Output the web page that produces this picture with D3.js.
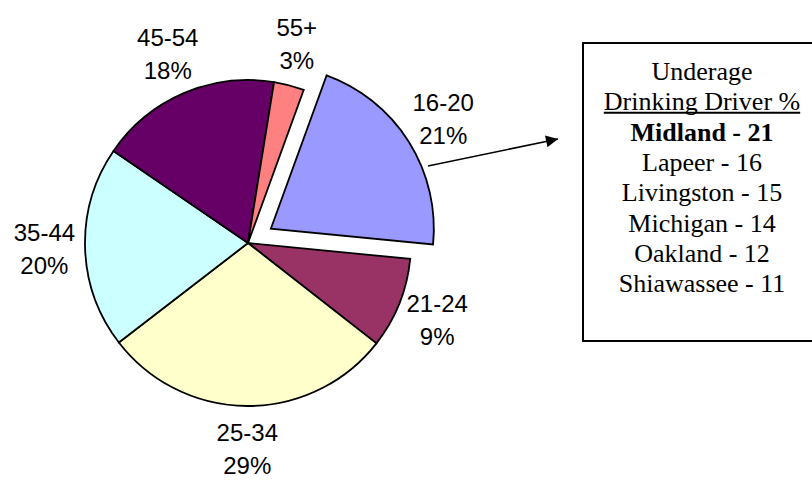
<!DOCTYPE html>
<html>
<head>
<meta charset="utf-8">
<script src="https://cdnjs.cloudflare.com/ajax/libs/d3/7.8.5/d3.min.js"></script>
<style>
  body { margin: 0; background: #fff; }
  svg { display: block; }
</style>
</head>
<body>
<div class="pieDiv"></div>
<script>
"use strict";

// age groups and share of drivers (%)
var ageGroups = ["16-20", "21-24", "25-34", "35-44", "45-54", "55+"];
var sharePct = [21, 9, 29, 20, 18, 3];
var sliceColors = ["#9999FF", "#993366", "#FFFFCC", "#CCFFFF", "#660066", "#FF8080"];
var explodedGroup = "16-20";

// text box on the right
var boxTitle = ["Underage", "Drinking Driver %"];
var counties = ["Midland", "Lapeer", "Livingston", "Michigan", "Oakland", "Shiawassee"];
var countyPct = [21, 16, 15, 14, 12, 11];

var width = 812, height = 481;
var cx = 248, cy = 243, radius = 163;
var explode = 27, labelGap = 10, labelHalfH = 33;

var svg = d3.select(".pieDiv").append("svg")
    .attr("width", width)
    .attr("height", height);

var defs = svg.append("defs");
defs.append("marker")
    .attr("id", "arrowHead")
    .attr("viewBox", "0 0 10 10")
    .attr("refX", 10)
    .attr("refY", 5)
    .attr("markerUnits", "userSpaceOnUse")
    .attr("markerWidth", 16)
    .attr("markerHeight", 12)
    .attr("orient", "auto")
  .append("path")
    .attr("d", "M0,0 L10,5 L0,10 Z")
    .attr("fill", "#000");

var data = ageGroups.map(function(g, i) {
  return { name: g, value: sharePct[i], color: sliceColors[i] };
});

var start = 20 * Math.PI / 180;
var pie = d3.pie()
    .sort(null)
    .value(function(d) { return d.value; })
    .startAngle(start)
    .endAngle(start + 2 * Math.PI);

var arc = d3.arc().innerRadius(0).outerRadius(radius);
var arcs = pie(data);

function midAngle(d) { return (d.startAngle + d.endAngle) / 2; }

function offset(d) {
  if (d.data.name !== explodedGroup) return [0, 0];
  var a = midAngle(d);
  return [explode * Math.sin(a), -explode * Math.cos(a)];
}

var g = svg.append("g")
    .attr("transform", "translate(" + cx + "," + cy + ")");

g.selectAll("path.slice")
    .data(arcs)
  .enter().append("path")
    .attr("class", "slice")
    .attr("transform", function(d) { var o = offset(d); return "translate(" + o[0] + "," + o[1] + ")"; })
    .attr("d", arc)
    .attr("fill", function(d) { return d.data.color; })
    .attr("stroke", "#000")
    .attr("stroke-width", 1.8);

// slice labels: name on first line, percent on second, set just outside the rim
var labels = g.selectAll("text.lbl")
    .data(arcs)
  .enter().append("text")
    .attr("class", "lbl")
    .attr("text-anchor", "middle")
    .style("font-family", "'Liberation Sans', Arial, sans-serif")
    .style("font-size", "24px")
    .attr("fill", "#000");

labels.append("tspan")
    .attr("x", 0)
    .attr("y", -8)
    .text(function(d) { return d.data.name; });
labels.append("tspan")
    .attr("x", 0)
    .attr("y", 25)
    .text(function(d) { return d.data.value + "%"; });

labels.attr("transform", function(d) {
  var a = midAngle(d), sx = Math.sin(a), sy = -Math.cos(a), o = offset(d);
  var halfW = this.getBBox().width / 2;
  var r = radius + labelGap;
  var x = r * sx + halfW * sx + o[0];
  var y = r * sy + labelHalfH * sy + o[1];
  return "translate(" + x + "," + y + ")";
});

// arrow from the exploded slice to the box
svg.append("line")
    .attr("x1", 428).attr("y1", 166)
    .attr("x2", 558).attr("y2", 139)
    .attr("stroke", "#000")
    .attr("stroke-width", 1.5)
    .attr("marker-end", "url(#arrowHead)");

// county box
var box = svg.append("g");
box.append("rect")
    .attr("x", 583).attr("y", 43)
    .attr("width", 238).attr("height", 298)
    .attr("fill", "#fff")
    .attr("stroke", "#000")
    .attr("stroke-width", 2);

var boxLines = boxTitle.concat(counties.map(function(c, i) { return c + " - " + countyPct[i]; }));
var boxX = 702, firstBase = 80, lineStep = 30.3;

var boxText = box.selectAll("text.boxline")
    .data(boxLines)
  .enter().append("text")
    .attr("class", "boxline")
    .attr("x", boxX)
    .attr("y", function(d, i) { return firstBase + i * lineStep; })
    .attr("text-anchor", "middle")
    .style("font-family", "'Liberation Serif', 'Times New Roman', serif")
    .style("font-size", "26px")
    .style("font-weight", function(d, i) { return i === 2 ? "bold" : "normal"; })
    .attr("fill", "#000")
    .text(function(d) { return d; });

// underline below the second title line
var bb = boxText.filter(function(d, i) { return i === 1; }).node().getBBox();
box.append("line")
    .attr("x1", bb.x).attr("x2", bb.x + bb.width)
    .attr("y1", firstBase + lineStep + 2.5)
    .attr("y2", firstBase + lineStep + 2.5)
    .attr("stroke", "#000")
    .attr("stroke-width", 2);
</script>
</body>
</html>
